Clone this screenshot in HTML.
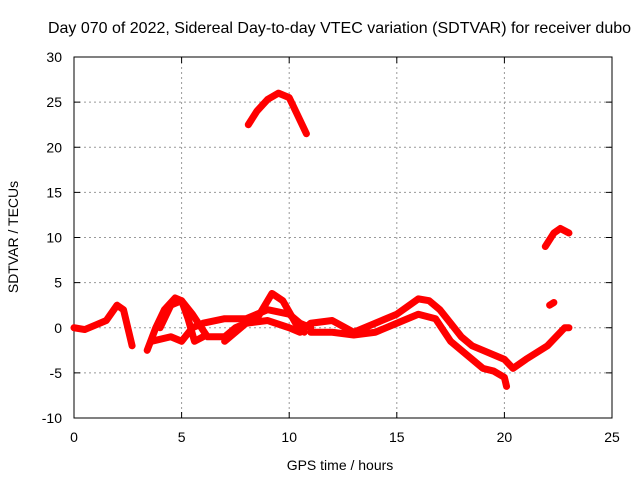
<!DOCTYPE html>
<html><head><meta charset="utf-8"><style>
body{margin:0;background:#fff}
svg{display:block;font-family:"Liberation Sans",sans-serif}
</style></head><body>
<svg id="c" width="640" height="480"></svg>
<script>
const xTicks=[0,5,10,15,20,25];
const yTicks=[-10,-5,0,5,10,15,20,25,30];
const seriesA=[[0,0],[0.5,-0.2],[1,0.3],[1.5,0.8],[2,2.5],[2.3,2],[2.5,0],[2.7,-2]];
const seriesB=[[3.4,-2.5],[3.8,0],[4.2,2],[4.7,3.3],[5,3],[5.3,1],[5.6,-1.5],[6,-1]];
const seriesC=[[3.6,-1.5],[4.5,-1],[5,-1.5],[5.5,0],[6,0.5],[7,1],[8,1],[9,2],[10,1.5],[10.5,0.5],[11,0]];
const seriesD=[[4,0],[4.5,2.5],[5,3],[5.5,1.5],[6.2,-1],[7,-1],[7.5,0],[8.5,1],[9.2,3.8],[9.7,3],[10.3,0.5],[10.7,-0.5]];
const seriesE=[[7,-1.5],[8,0.5],[9,0.8],[10,0],[10.5,-0.5],[11,0.5],[12,0.8],[13,-0.5],[14,0.5],[15,1.5],[16,3.2],[16.5,3],[17,2],[17.5,0.5],[18,-1],[18.5,-2],[19,-2.5],[20,-3.5],[20.4,-4.5],[21,-3.5],[22,-2],[22.8,0],[23,0]];
const seriesF=[[11,-0.5],[12,-0.5],[13,-0.8],[14,-0.5],[15,0.5],[16,1.5],[16.8,1],[17.5,-1.5],[18,-2.5],[18.5,-3.5],[19,-4.5],[19.5,-4.8],[20,-5.5],[20.1,-6.5]];
const seriesTop=[[8.1,22.5],[8.5,24],[9,25.3],[9.5,26],[10,25.5],[10.4,23.5],[10.8,21.5]];
const seriesRight=[[21.9,9],[22.3,10.5],[22.6,11],[23,10.5]];
const seriesSmall=[[22.1,2.5],[22.3,2.8]];
const allSeries=[seriesA,seriesB,seriesC,seriesD,seriesE,seriesF,seriesTop,seriesRight,seriesSmall];

const L=74,R=612,T=57,B=418;
const sx=v=>L+(v-0)/(25-0)*(R-L);
const sy=v=>B-(v+10)/40*(B-T);
const svg=document.getElementById('c');
const NS='http://www.w3.org/2000/svg';
function mk(tag,attrs,parent){const e=document.createElementNS(NS,tag);for(const k in attrs)e.setAttribute(k,attrs[k]);(parent||svg).appendChild(e);return e;}

xTicks.forEach(t=>{
  if(t>0&&t<25){const g=mk('line',{x1:sx(t),x2:sx(t),y1:T,y2:B,stroke:'#999','stroke-dasharray':'2,3'});
  
  }
  const tk=mk('line',{x1:sx(t),x2:sx(t),y1:B,y2:B-6,stroke:'#000'});
  
  
  const tk2=mk('line',{x1:sx(t),x2:sx(t),y1:T,y2:T+6,stroke:'#000'});
  
  
  const tx=mk('text',{x:sx(t),y:B+24,'text-anchor':'middle','font-size':14});
  tx.textContent=t;
  
  
});
yTicks.forEach(t=>{
  if(t>-10&&t<30){const g=mk('line',{x1:L,x2:R,y1:sy(t),y2:sy(t),stroke:'#999','stroke-dasharray':'2,3'});
  
  }
  const tk=mk('line',{x1:L,x2:L+6,y1:sy(t),y2:sy(t),stroke:'#000'});
  
  
  const tk2=mk('line',{x1:R,x2:R-6,y1:sy(t),y2:sy(t),stroke:'#000'});
  
  
  const tx=mk('text',{x:L-12,y:sy(t)+5,'text-anchor':'end','font-size':14});
  tx.textContent=t;
  
  
});
const frame=mk('rect',{x:L,y:T,width:R-L,height:B-T,fill:'none',stroke:'#000'});



allSeries.forEach(s=>{
  const p=mk('polyline',{points:s.map(d=>sx(d[0])+','+sy(d[1])).join(' '),fill:'none',stroke:'#f00','stroke-width':7,'stroke-linejoin':'round','stroke-linecap':'round'});
  
  
});

const title=mk('text',{x:339.5,y:33,'text-anchor':'middle','font-size':16});
title.textContent='Day 070 of 2022, Sidereal Day-to-day VTEC variation (SDTVAR) for receiver dubo';


const xt=mk('text',{x:340,y:470,'text-anchor':'middle','font-size':14});
xt.textContent='GPS time / hours';


const yt=mk('text',{x:18,y:237,'text-anchor':'middle','font-size':14,transform:'rotate(-90 18 237)'});
yt.textContent='SDTVAR / TECUs';


</script>
</body></html>
